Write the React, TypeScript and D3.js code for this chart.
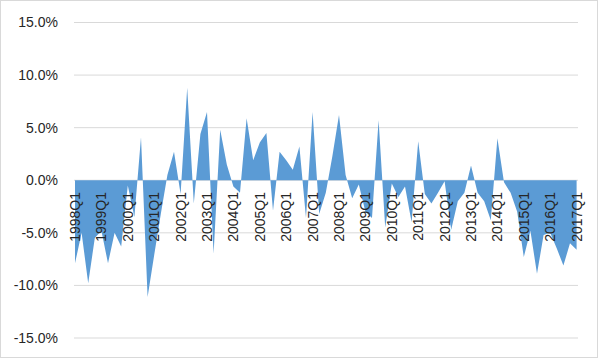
import React from "react";
import * as d3 from "d3";

const startYear = 1998;
const quarters: string[] = [];
for (let y = startYear; y <= 2017; y++) {
  for (let q = 1; q <= 4; q++) {
    if (y === 2017 && q > 1) break;
    quarters.push(`${y}Q${q}`);
  }
}

const values: number[] = [
  -7.9, -5.0, -9.8, -5.5, -4.8, -7.9, -5.0, -6.3, -0.5, -3.5,
  4.1, -11.1, -7.1, -3.2, 0.5, 2.7, -1.3, 8.8, -2.2, 4.4,
  6.5, -7.0, 4.8, 1.5, -0.6, -1.2, 5.9, 1.9, 3.6, 4.5,
  -2.9, 2.7, 1.9, 1.0, 3.2, -3.6, 6.5, -3.2, -1.2, 2.3,
  6.2, 0.5, -1.7, -0.4, -3.0, -3.6, 5.7, -4.5, -0.3, -1.6,
  -0.6, -4.0, 3.7, -1.3, -2.2, -1.2, -0.1, -4.7, -2.0, -1.2,
  1.4, -1.2, -2.0, -3.8, 4.0, -0.2, -1.2, -3.0, -7.3, -4.8,
  -8.9, -5.2, -5.0, -6.5, -8.1, -6.0, -6.6,
];

const yTicks: number[] = [-15, -10, -5, 0, 5, 10, 15];
const labelEvery = 4;

export default function App() {
  const W = 600;
  const H = 360;
  const x = d3.scaleLinear().domain([0, quarters.length - 1]).range([75, 576.6]);
  const y = d3.scaleLinear().domain([-15, 15]).range([338, 22.5]);
  const area = d3
    .area<number>()
    .x((_, i) => x(i))
    .y0(y(0))
    .y1((d) => y(d));

  return (
    <svg
      width={W}
      height={H}
      style={{ position: "fixed", left: 0, top: 0, background: "#fff" }}
      fontFamily="'Liberation Sans', Arial, sans-serif"
    >
      <rect x={0.5} y={0.5} width={597} height={357} fill="#fff" stroke="#d9d9d9" />
      {yTicks.map((t) => (
        <g key={t}>
          <line x1={74} x2={578} y1={y(t)} y2={y(t)} stroke="#d9d9d9" strokeWidth={1} />
          <text
            x={58}
            y={y(t)}
            dy="0.35em"
            textAnchor="end"
            fontSize={14}
            fill="#262626"
          >
            {`${t.toFixed(1)}%`}
          </text>
        </g>
      ))}
      <path d={area(values) || ""} fill="#5b9bd5" />
      {quarters.map((q, i) =>
        i % labelEvery === 0 ? (
          <text
            key={q}
            transform={`translate(${x(i)},192) rotate(-90)`}
            dy="0.35em"
            textAnchor="end"
            fontSize={14}
            fill="#262626"
          >
            {q}
          </text>
        ) : null
      )}
    </svg>
  );
}
